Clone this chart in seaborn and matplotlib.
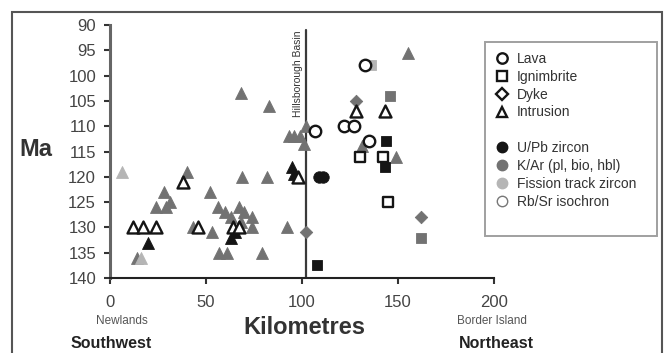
import matplotlib
matplotlib.use("Agg")
import matplotlib.pyplot as plt
from matplotlib.lines import Line2D
from matplotlib.patches import Rectangle
import seaborn as sns
import pandas as pd

# ---- data: distance along the transect (km), age (Ma), rock type, dating method ----
km = [6, 16,
      14, 28, 24, 29, 31, 40, 43, 52, 53, 56, 60, 63, 67, 70, 74, 74, 68, 57, 61, 79,
      69, 82, 92, 68, 83, 93, 96, 99, 101, 102, 155, 131, 149,
      20, 63, 65, 95, 96,
      12, 17, 24, 38, 46, 64, 67, 98, 128, 143,
      107, 122, 127, 135, 133,
      109, 111,
      130, 142, 145,
      144, 143, 108,
      146, 162,
      136,
      128, 162, 102]
ma = [119, 136,
      136, 123, 126, 126, 125, 119, 130, 123, 131, 126, 127, 128, 126, 127, 128, 130, 129, 135, 135, 135,
      120, 120, 130, 103.5, 106, 112, 112, 112, 113.5, 110, 95.5, 114, 116,
      133, 132, 131, 118, 119.5,
      130, 130, 130, 121, 130, 130, 130, 120, 107, 107,
      111, 110, 110, 113, 98,
      120, 120,
      116, 116, 125,
      113, 118, 137.5,
      104, 132,
      98,
      105, 128, 131]
rock = (["Intrusion"] * 50 + ["Lava"] * 7 + ["Ignimbrite"] * 9 + ["Dyke"] * 3)
method = (["Fission track zircon"] * 2
          + ["K/Ar (pl, bio, hbl)"] * 33
          + ["U/Pb zircon"] * 5
          + ["Rb/Sr isochron"] * 10
          + ["Rb/Sr isochron"] * 5
          + ["U/Pb zircon"] * 2
          + ["Rb/Sr isochron"] * 3
          + ["U/Pb zircon"] * 3
          + ["K/Ar (pl, bio, hbl)"] * 2
          + ["Fission track zircon"] * 1
          + ["K/Ar (pl, bio, hbl)"] * 3)

rock_order = ["Lava", "Ignimbrite", "Dyke", "Intrusion"]
method_order = ["U/Pb zircon", "K/Ar (pl, bio, hbl)", "Fission track zircon", "Rb/Sr isochron"]
x_ticks = [0, 50, 100, 150, 200]
y_ticks = [90, 95, 100, 105, 110, 115, 120, 125, 130, 135, 140]
basin_km = 102

df = pd.DataFrame({"km": km, "ma": ma, "rock": rock, "method": method})

# ---- styling ----
markers = {"Lava": "o", "Ignimbrite": "s", "Dyke": "D", "Intrusion": "^"}
msize = {"Lava": 68, "Ignimbrite": 60, "Dyke": 40, "Intrusion": 74}
fills = {"U/Pb zircon": "#151515", "K/Ar (pl, bio, hbl)": "#727272",
         "Fission track zircon": "#b5b5b5", "Rb/Sr isochron": "white"}
edges = {"U/Pb zircon": "#151515", "K/Ar (pl, bio, hbl)": "#727272",
         "Fission track zircon": "#b5b5b5", "Rb/Sr isochron": "#151515"}
draw_order = ["K/Ar (pl, bio, hbl)", "Fission track zircon", "U/Pb zircon", "Rb/Sr isochron"]

sns.set_style("ticks")
plt.rcParams["font.family"] = ["Liberation Sans", "DejaVu Sans"]

fig = plt.figure(figsize=(6.68, 3.53), dpi=100)
ax = fig.add_axes([110 / 668, 1 - 278 / 353, (494 - 110) / 668, (278 - 25) / 353])

for z, m in enumerate(draw_order):
    for r in rock_order:
        sub = df[(df["method"] == m) & (df["rock"] == r)]
        if sub.empty:
            continue
        sns.scatterplot(data=sub, x="km", y="ma", ax=ax, marker=markers[r], s=msize[r],
                        color=fills[m], edgecolor=edges[m],
                        linewidth=1.7 if m == "Rb/Sr isochron" else 0.6,
                        zorder=3 + z, legend=False)

# basin boundary
ax.plot([basin_km, basin_km], [91, 140], color="#3a3a3a", lw=1.6, zorder=2)
ax.text(basin_km - 1.6, 91, "Hillsborough Basin", rotation=90, ha="right", va="top",
        fontsize=7.5, color="#333333")

ax.set_xlim(0, 200)
ax.set_ylim(140, 90)
ax.set_xticks(x_ticks)
ax.set_yticks(y_ticks)
ax.set_xlabel("")
ax.set_ylabel("")
for s in ["top", "right"]:
    ax.spines[s].set_visible(False)
ax.spines["left"].set_color("#666666")
ax.spines["left"].set_linewidth(2.2)
ax.spines["bottom"].set_color("#222222")
ax.spines["bottom"].set_linewidth(1.5)
ax.tick_params(axis="both", direction="out", length=4, width=1.5, colors="#333333",
               labelsize=12, labelcolor="#444444")
ax.tick_params(axis="x", pad=8)
ax.tick_params(axis="y", pad=6)

# axis titles and place names
fig.text(36 / 668, 1 - 150 / 353, "Ma", fontsize=17, fontweight="bold", color="#333333",
         ha="center", va="center")
fig.text(304 / 668, 1 - 327 / 353, "Kilometres", fontsize=17, fontweight="bold",
         color="#333333", ha="center", va="center")
fig.text(122 / 668, 1 - 321 / 353, "Newlands", fontsize=8.5, color="#555555",
         ha="center", va="center")
fig.text(111 / 668, 1 - 343 / 353, "Southwest", fontsize=11.5, fontweight="bold",
         color="#222222", ha="center", va="center")
fig.text(492 / 668, 1 - 321 / 353, "Border Island", fontsize=8.5, color="#555555",
         ha="center", va="center")
fig.text(496 / 668, 1 - 343 / 353, "Northeast", fontsize=11.5, fontweight="bold",
         color="#222222", ha="center", va="center")

# legend: rock types (open symbols), then dating methods (circles)
handles = [Line2D([], [], ls="", marker=markers[r], ms=7.5 if r != "Dyke" else 6,
                  mfc="white", mec="#151515", mew=1.7) for r in rock_order]
labels = list(rock_order)
handles.append(Line2D([], [], ls="", marker=None))
labels.append(" ")
for m in method_order:
    handles.append(Line2D([], [], ls="", marker="o", ms=7.5, mfc=fills[m],
                          mec=edges[m] if m != "Rb/Sr isochron" else "#777777",
                          mew=1.0))
    labels.append(m)
handles.append(Line2D([], [], ls="", marker=None))
labels.append(" ")
leg = fig.legend(handles, labels, loc="upper left",
                 bbox_to_anchor=(485 / 668, 1 - 231 / 353, 172 / 668, 189 / 353),
                 mode="expand", frameon=True, fancybox=False, fontsize=10,
                 handlelength=1.0, handletextpad=0.6, labelspacing=0.28,
                 borderpad=0.7, borderaxespad=0)
leg.get_frame().set_edgecolor("#888888")
leg.get_frame().set_linewidth(1.4)
for t in leg.get_texts():
    t.set_color("#333333")

# outer frame around the figure
fig.add_artist(Rectangle((12 / 668, -0.05), 650 / 668, 1 - 12 / 353 + 0.05,
                         transform=fig.transFigure, fill=False,
                         edgecolor="#555555", lw=1.5))

fig.savefig("out.png", dpi=100)
